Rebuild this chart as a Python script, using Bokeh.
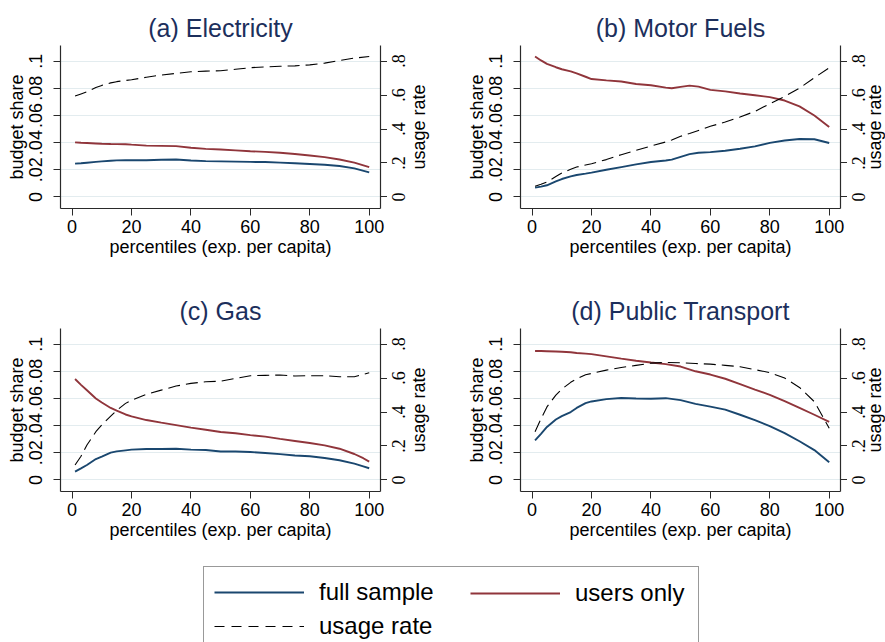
import math

from bokeh.embed import file_html
from bokeh.layouts import column, row
from bokeh.models import (ColumnDataSource, CustomLabelingPolicy, FixedTicker, Label,
                          LabelSet, Legend, LegendItem, LinearAxis, Range1d)
from bokeh.plotting import figure
from bokeh.resources import INLINE

# ---------------------------------------------------------------------------
# Smoothed budget shares and usage rates by percentile of expenditure per capita
# ---------------------------------------------------------------------------
pct_a = [1, 3, 5, 8, 10, 13, 15, 18, 20, 25, 30, 35, 40, 45, 50, 55, 60, 65, 70, 75, 80, 85, 90, 95, 100]
elec_full = [0.0245, 0.0248, 0.0252, 0.0258, 0.0262, 0.0267, 0.0269, 0.0270, 0.0270, 0.0270, 0.0274, 0.0276,
             0.0268, 0.0264, 0.0262, 0.0260, 0.0258, 0.0257, 0.0253, 0.0248, 0.0243, 0.0237, 0.0228, 0.0210, 0.0181]
elec_users = [0.0402, 0.0399, 0.0397, 0.0394, 0.0392, 0.0390, 0.0389, 0.0388, 0.0385, 0.0378, 0.0376, 0.0374,
              0.0362, 0.0354, 0.0349, 0.0343, 0.0337, 0.0332, 0.0325, 0.0316, 0.0305, 0.0293, 0.0276, 0.0253, 0.0220]
elec_usage = [0.594, 0.607, 0.620, 0.645, 0.657, 0.672, 0.679, 0.686, 0.690, 0.705, 0.718, 0.728,
              0.737, 0.741, 0.743, 0.752, 0.761, 0.766, 0.770, 0.772, 0.778, 0.788, 0.804, 0.818, 0.827]

pct_b = [1, 3, 5, 8, 10, 13, 15, 18, 20, 25, 30, 35, 40, 45, 47, 50, 53, 56, 60, 65, 70, 75, 80, 85, 90, 95, 100]
fuel_full = [0.0069, 0.0076, 0.0086, 0.0115, 0.0132, 0.0152, 0.0162, 0.0172, 0.0179, 0.0200, 0.0220, 0.0240, 0.0257,
             0.0268, 0.0275, 0.0295, 0.0315, 0.0325, 0.0330, 0.0340, 0.0355, 0.0372, 0.0398, 0.0416, 0.0427, 0.0425, 0.0397]
fuel_users = [0.1034, 0.1005, 0.0980, 0.0955, 0.0940, 0.0925, 0.0910, 0.0885, 0.0868, 0.0858, 0.0850, 0.0832, 0.0822,
              0.0805, 0.0800, 0.0810, 0.0820, 0.0812, 0.0788, 0.0777, 0.0762, 0.0749, 0.0735, 0.0710, 0.0667, 0.0600, 0.0515]
fuel_usage = [0.063, 0.075, 0.088, 0.120, 0.141, 0.163, 0.176, 0.188, 0.196, 0.220, 0.249, 0.275, 0.300,
              0.324, 0.335, 0.357, 0.374, 0.392, 0.416, 0.441, 0.471, 0.504, 0.549, 0.592, 0.641, 0.702, 0.761]

pct_c = [1, 3, 5, 8, 10, 13, 15, 18, 20, 25, 30, 35, 40, 45, 50, 55, 60, 65, 70, 75, 80, 85, 90, 95, 98, 100]
gas_full = [0.0061, 0.0085, 0.0110, 0.0154, 0.0172, 0.0201, 0.0210, 0.0218, 0.0223, 0.0228, 0.0228, 0.0230, 0.0223,
            0.0220, 0.0210, 0.0209, 0.0206, 0.0198, 0.0190, 0.0180, 0.0174, 0.0162, 0.0145, 0.0120, 0.0100, 0.0086]
gas_users = [0.0743, 0.0700, 0.0660, 0.0600, 0.0570, 0.0530, 0.0510, 0.0482, 0.0468, 0.0441, 0.0422, 0.0404, 0.0385,
             0.0370, 0.0353, 0.0344, 0.0330, 0.0319, 0.0302, 0.0287, 0.0272, 0.0255, 0.0230, 0.0191, 0.0160, 0.0135]
gas_usage = [0.088, 0.140, 0.206, 0.284, 0.324, 0.376, 0.410, 0.451, 0.470, 0.504, 0.529, 0.553, 0.569,
             0.578, 0.582, 0.598, 0.614, 0.616, 0.618, 0.612, 0.614, 0.614, 0.608, 0.608, 0.622, 0.631]

pct_d = [1, 3, 5, 8, 10, 13, 15, 18, 20, 25, 30, 35, 40, 45, 50, 55, 60, 65, 70, 75, 80, 85, 90, 95, 100]
transit_full = [0.0292, 0.0340, 0.0390, 0.0445, 0.0470, 0.0500, 0.0530, 0.0565, 0.0578, 0.0595, 0.0603, 0.0600,
                0.0598, 0.0602, 0.0588, 0.0560, 0.0540, 0.0518, 0.0480, 0.0440, 0.0397, 0.0345, 0.0285, 0.0220, 0.0130]
transit_users = [0.0949, 0.0949, 0.0948, 0.0946, 0.0944, 0.0940, 0.0935, 0.0930, 0.0926, 0.0910, 0.0893, 0.0878,
                 0.0865, 0.0853, 0.0835, 0.0800, 0.0776, 0.0745, 0.0705, 0.0665, 0.0627, 0.0580, 0.0530, 0.0480, 0.0428]
transit_usage = [0.284, 0.360, 0.430, 0.500, 0.535, 0.575, 0.595, 0.620, 0.627, 0.647, 0.662, 0.675,
                 0.688, 0.692, 0.690, 0.686, 0.682, 0.675, 0.667, 0.650, 0.632, 0.600, 0.545, 0.461, 0.304]

titles = ["(a) Electricity", "(b) Motor Fuels", "(c) Gas", "(d) Public Transport"]
x_ticks = [0, 20, 40, 60, 80, 100]
share_ticks = [0, 0.02, 0.04, 0.06, 0.08, 0.1]
share_tick_labels = ["0", ".02", ".04", ".06", ".08", ".1"]
usage_ticks = [0, 0.2, 0.4, 0.6, 0.8]
usage_tick_labels = ["0", ".2", ".4", ".6", ".8"]
legend_labels = ["full sample", "users only", "usage rate"]

# ---------------------------------------------------------------------------
# Styling
# ---------------------------------------------------------------------------
FONT = "Liberation Sans"
BLUE = "#1a476f"
RED = "#90353b"
NAVY = "#1c2f5c"
GRID = "#e3ecef"
AXIS = "#2a2a2a"
TICK_FS = "18px"
LABEL_FS = "18px"
FRAME_W, FRAME_H = 320, 163
TOP, BOTTOM = 45, 75
TICK_LEN = 7
AXIS_RIGHT = TICK_LEN     # room beside the frame for the right-hand tick marks


def style_axis(ax):
    ax.axis_line_color = AXIS
    ax.axis_line_width = 1.2
    ax.major_tick_line_color = AXIS
    ax.major_tick_out = TICK_LEN
    ax.major_tick_in = 0
    ax.minor_tick_line_color = None
    ax.major_label_text_font = FONT
    ax.major_label_text_font_size = TICK_FS
    ax.major_label_text_color = "black"
    ax.axis_label_text_font = FONT
    ax.axis_label_text_font_size = LABEL_FS
    ax.axis_label_text_font_style = "normal"
    ax.axis_label_text_color = "black"


# the right-hand axis shows its tick marks only; its labels are set in the strip beside it
no_labels = CustomLabelingPolicy(code="""
for (const i of indices) {
  indices.unset(i)
}
return indices
""")


def panel(title, pct, full, users, usage, border_left, border_right, label_x):
    usage_range = Range1d(-0.068, 0.892)

    p = figure(width=border_left + FRAME_W + AXIS_RIGHT, height=TOP + FRAME_H + BOTTOM,
               output_backend="svg", toolbar_location=None,
               x_range=Range1d(-3.9, 103.8), y_range=Range1d(-0.0085, 0.1115),
               min_border_left=border_left, min_border_right=AXIS_RIGHT,
               min_border_top=TOP, min_border_bottom=BOTTOM, title=title)
    p.extra_y_ranges = {"usage": usage_range}
    p.outline_line_color = None
    p.background_fill_color = "white"
    p.border_fill_color = "white"

    p.title.text_font = FONT
    p.title.text_font_size = "25px"
    p.title.text_font_style = "normal"
    p.title.text_color = NAVY
    p.title.align = "center"
    p.title.standoff = 8

    p.xgrid.visible = False
    p.ygrid.ticker = FixedTicker(ticks=share_ticks)
    p.ygrid.grid_line_color = GRID
    p.ygrid.grid_line_width = 1.2

    xax = p.xaxis[0]
    style_axis(xax)
    xax.ticker = FixedTicker(ticks=x_ticks)
    xax.axis_label = "percentiles (exp. per capita)"
    xax.major_label_standoff = 4
    xax.axis_label_standoff = 1

    yax = p.yaxis[0]
    style_axis(yax)
    yax.ticker = FixedTicker(ticks=share_ticks)
    yax.major_label_overrides = dict(zip(share_ticks, share_tick_labels))
    yax.major_label_orientation = "vertical"
    yax.axis_label = "budget share"
    yax.major_label_standoff = 11
    yax.axis_label_standoff = 0

    rax = LinearAxis(y_range_name="usage", ticker=FixedTicker(ticks=usage_ticks))
    style_axis(rax)
    rax.major_label_text_font_size = "0px"
    rax.major_label_standoff = 0
    rax.major_label_policy = no_labels
    p.add_layout(rax, "right")

    p.line(pct, full, line_color=BLUE, line_width=1.9)
    p.line(pct, users, line_color=RED, line_width=1.9)
    p.line(pct, usage, line_color="black", line_width=1.1, line_dash="12 6",
           y_range_name="usage")

    # narrow strip next to the frame carrying the usage-rate tick labels and title,
    # written bottom-to-top like those of the left axis
    strip_w = border_right - AXIS_RIGHT
    s = figure(width=strip_w, height=TOP + FRAME_H + BOTTOM, output_backend="svg",
               toolbar_location=None, x_axis_location=None, y_axis_location=None,
               min_border_left=0, min_border_right=0, min_border_top=TOP,
               min_border_bottom=BOTTOM, x_range=Range1d(0, 1), y_range=usage_range)
    s.outline_line_color = None
    s.grid.visible = False
    s.border_fill_color = "white"
    tick_src = ColumnDataSource(dict(tick=usage_ticks, label=usage_tick_labels))
    s.add_layout(LabelSet(x=18 - AXIS_RIGHT, y="tick", text="label", source=tick_src,
                          x_units="screen", angle=math.pi / 2,
                          text_align="center", text_baseline="middle", text_font=FONT,
                          text_font_size=TICK_FS, text_color="black"))
    s.add_layout(Label(x=label_x - AXIS_RIGHT, y=FRAME_H / 2, x_units="screen", y_units="screen",
                       text="usage rate", angle=math.pi / 2, text_align="center",
                       text_baseline="middle", text_font=FONT, text_font_size=LABEL_FS,
                       text_color="black"))
    return [p, s]


panel_a = panel(titles[0], pct_a, elec_full, elec_users, elec_usage, 60, 60, 38.5)
panel_b = panel(titles[1], pct_b, fuel_full, fuel_users, fuel_usage, 80, 45, 34)
panel_c = panel(titles[2], pct_c, gas_full, gas_users, gas_usage, 60, 60, 38.5)
panel_d = panel(titles[3], pct_d, transit_full, transit_users, transit_usage, 80, 45, 34)

# ---------------------------------------------------------------------------
# Shared legend underneath the panels (its sample lines sit outside the view)
# ---------------------------------------------------------------------------
leg = figure(width=885, height=76, output_backend="svg", toolbar_location=None,
             x_axis_location=None, y_axis_location=None, min_border=0,
             x_range=Range1d(500, 600), y_range=Range1d(500, 600))
leg.outline_line_color = None
leg.grid.visible = False
r_full = leg.line(pct_a, elec_full, line_color=BLUE, line_width=1.9)
r_users = leg.line(pct_a, elec_users, line_color=RED, line_width=1.9)
r_usage = leg.line(pct_a, elec_usage, line_color="black", line_width=1.1, line_dash="10 7")

legend_common = dict(glyph_width=90, glyph_height=30, label_height=30, label_standoff=15,
                     spacing=4, margin=0, label_text_font=FONT,
                     label_text_font_size="24px", label_text_color="black")
boxed = Legend(items=[LegendItem(label=legend_labels[0], renderers=[r_full]),
                      LegendItem(label=legend_labels[2], renderers=[r_usage])],
               location=(203, -10), padding=10, label_width=369,
               border_line_color="#333333", border_line_width=1.5,
               background_fill_color="white", **legend_common)
second = Legend(items=[LegendItem(label=legend_labels[1], renderers=[r_users])],
                location=(470, 34), border_line_color=None, background_fill_alpha=0,
                **legend_common)
leg.add_layout(boxed, "center")
leg.add_layout(second, "center")

page = column(row(*panel_a, *panel_b), row(*panel_c, *panel_d), leg)

open("out.html", "w").write(file_html(page, INLINE))
